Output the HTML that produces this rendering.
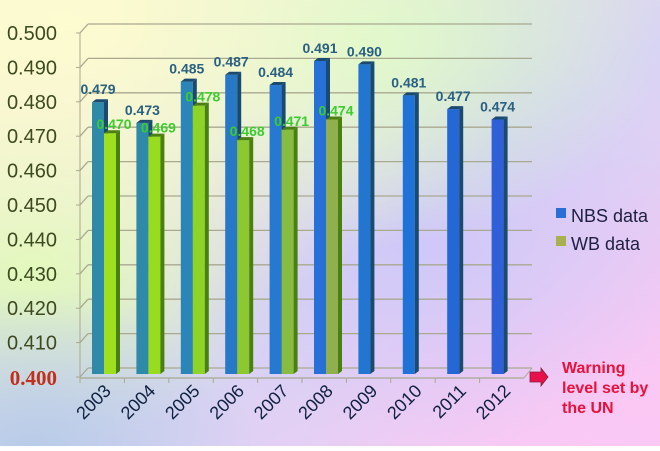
<!DOCTYPE html>
<html><head><meta charset="utf-8"><style>
html,body{margin:0;padding:0;}
body{width:660px;height:446px;overflow:hidden;font-family:"Liberation Sans",sans-serif;}
</style></head><body>
<svg id="s" width="660" height="446" xmlns="http://www.w3.org/2000/svg">
<defs>
<radialGradient id="gy" cx="0.1" cy="0.05" r="0.7"><stop offset="0" stop-color="#fdfbd0"/><stop offset="1" stop-color="#fdfbd0" stop-opacity="0"/></radialGradient>
<radialGradient id="gg" cx="0.55" cy="0.1" r="0.45"><stop offset="0" stop-color="#d4f8c8"/><stop offset="1" stop-color="#d4f8c8" stop-opacity="0"/></radialGradient>
<radialGradient id="gl" cx="0.05" cy="0.6" r="0.4"><stop offset="0" stop-color="#dcf8b8"/><stop offset="1" stop-color="#dcf8b8" stop-opacity="0"/></radialGradient>
<radialGradient id="gv" cx="0.65" cy="0.55" r="0.45"><stop offset="0" stop-color="#cfc8f8"/><stop offset="1" stop-color="#cfc8f8" stop-opacity="0"/></radialGradient>
<linearGradient id="bgb" x1="0" y1="0" x2="1" y2="1"><stop offset="0" stop-color="#f6f6cc"/><stop offset="0.55" stop-color="#d8d4f4"/><stop offset="1" stop-color="#f8c8f4"/></linearGradient>
<radialGradient id="gbl" cx="0.05" cy="1" r="0.35"><stop offset="0" stop-color="#b8cce8"/><stop offset="1" stop-color="#b8cce8" stop-opacity="0"/></radialGradient>
<radialGradient id="gp" cx="0.95" cy="0.85" r="0.5"><stop offset="0" stop-color="#fcc8f4"/><stop offset="1" stop-color="#fcc8f4" stop-opacity="0"/></radialGradient>
</defs>
<rect width="660" height="446" fill="url(#bgb)"/>
<rect width="660" height="446" fill="url(#gp)"/>
<rect width="660" height="446" fill="url(#gv)"/>
<rect width="660" height="446" fill="url(#gg)"/>
<rect width="660" height="446" fill="url(#gl)"/>
<rect width="660" height="446" fill="url(#gbl)"/>
<rect width="660" height="446" fill="url(#gy)"/>
<g id="g"></g>
</svg>
<script>
var g=document.getElementById('g'),h='';
for(var i=0;i<=10;i++){var v=0.5-i*0.01;var yb=24+i*34.4,yf=yb+9;
h+='<line x1="88" y1="'+yb+'" x2="532" y2="'+yb+'" stroke="#a9a990" stroke-width="1.3"/>';
h+='<line x1="80" y1="'+yf+'" x2="88" y2="'+yb+'" stroke="#a9a990" stroke-width="1.3"/>';
h+='<line x1="76" y1="'+yf+'" x2="80" y2="'+yf+'" stroke="#a9a990"/>';
if(i<10)h+='<text x="57" y="'+(yf+7)+'" text-anchor="end" font-size="20" fill="#3d4a20">'+v.toFixed(3)+'</text>';}
h+='<text x="57" y="385" text-anchor="end" font-size="21" font-weight="bold" font-family="Liberation Serif,serif" fill="#c0301c">0.400</text>';
h+='<line x1="80" y1="33" x2="80" y2="378" stroke="#a9a990"/>';
h+='<line x1="80" y1="378" x2="524" y2="378" stroke="#a9a990" stroke-width="1.3"/><line x1="524" y1="378" x2="532" y2="368" stroke="#a9a990"/>';
var nbs=[.479,.473,.485,.487,.484,.491,.490,.481,.477,.474],wb=[.470,.469,.478,.468,.471,.474];
var bc=['#2e8aa8','#2e8aa8','#2a86b8','#2878c8','#2678d0','#2670d8','#2276d0','#1e72d8','#2468d8','#3060d8'];
var gc=['#9ee020','#98dc20','#8ed426','#8cc830','#88bc40','#90b050'];
function bar(x,v,c,d){var y=374-(v-0.4)*3440;
return '<rect x="'+x+'" y="'+y+'" width="12" height="'+(374-y)+'" fill="'+c+'"/><polygon points="'+(x+12)+','+y+' '+(x+16)+','+(y-3)+' '+(x+16)+','+(371)+' '+(x+12)+',374" fill="'+d+'"/><polygon points="'+x+','+y+' '+(x+4)+','+(y-3)+' '+(x+16)+','+(y-3)+' '+(x+12)+','+y+'" fill="'+d+'"/>';}
for(var k=0;k<10;k++){var x=92+k*44.4;
h+=bar(x,nbs[k],bc[k],'#1a4a70');
var yy=374-(nbs[k]-0.4)*3440;
h+='<text x="'+(x+6)+'" y="'+(yy-8)+'" text-anchor="middle" font-size="14" font-weight="bold" fill="#2a6080">'+nbs[k].toFixed(3)+'</text>';
if(k<6){h+=bar(x+12,wb[k],gc[k],'#4a8010');var y2=374-(wb[k]-0.4)*3440;
h+='<text x="'+(x+22)+'" y="'+(y2-4)+'" text-anchor="middle" font-size="14" font-weight="bold" fill="#3ccc30">'+wb[k].toFixed(3)+'</text>';}
var lx=x+20;h+='<line x1="'+(x-12)+'" y1="378" x2="'+(x-12)+'" y2="383" stroke="#a9a990"/>';
h+='<text transform="translate('+(lx)+',392) rotate(-45)" text-anchor="end" font-size="18" fill="#102040">'+(2003+k)+'</text>';}
h+='<rect x="556" y="208" width="10" height="10" fill="#2a6ed8"/><text x="571" y="222" font-size="18" fill="#202040">NBS data</text>';
h+='<rect x="556" y="236" width="10" height="10" fill="#a8b050"/><text x="571" y="250" font-size="18" fill="#202040">WB data</text>';
h+='<polygon points="530,372 541,372 541,368 548,377 541,386 541,382 530,382" fill="#e8104a" stroke="#802040" stroke-width="0.8"/>';
h+='<text font-size="16" font-weight="bold" fill="#e8103c"><tspan x="562" y="373">Warning</tspan><tspan x="562" y="393">level set by</tspan><tspan x="562" y="413">the UN</tspan></text>';
g.innerHTML=h;
</script>
</body></html>
